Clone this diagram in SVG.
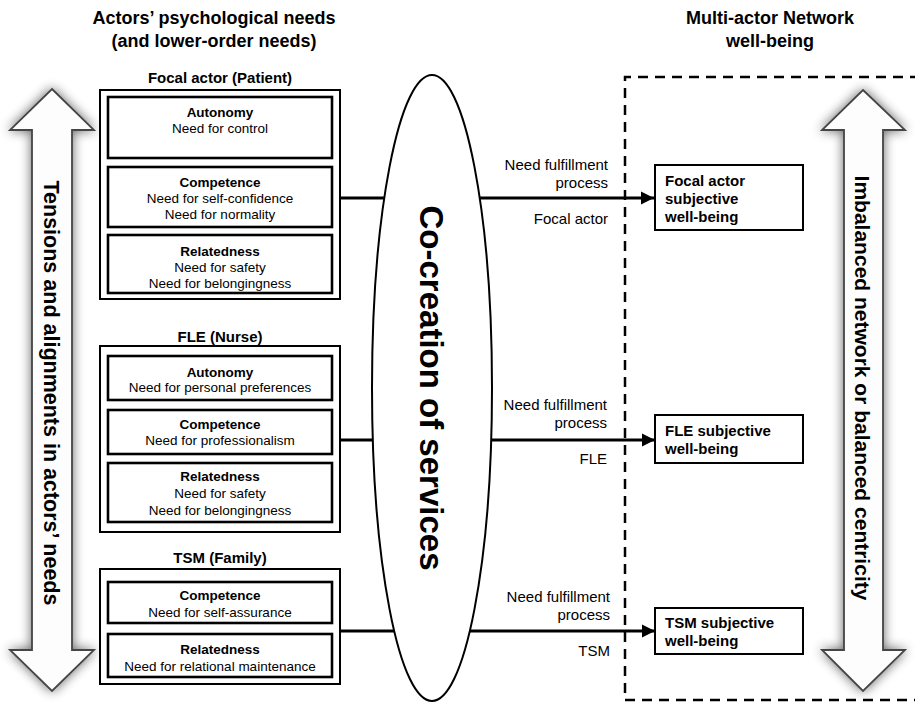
<svg xmlns="http://www.w3.org/2000/svg" width="915" height="707" viewBox="0 0 915 707">
<defs>
<style>
text{font-family:"Liberation Sans",Arial,sans-serif;fill:#000}
.h{font-size:18px;font-weight:bold;text-anchor:middle}
.g{font-size:15px;font-weight:bold;text-anchor:middle}
.t{font-size:13.5px;font-weight:bold;text-anchor:middle}
.n{font-size:13.5px;text-anchor:middle}
.l{font-size:15px;text-anchor:end}
.w{font-size:15px;font-weight:bold}
.outer{fill:#fff;stroke:#000;stroke-width:2}
.inner{fill:#fff;stroke:#000;stroke-width:2.6}
.big{fill:#fdfdfd;stroke:#444;stroke-width:1.8}
.conn{stroke:#000;stroke-width:3;fill:none}
</style>
<filter id="sh" x="-50%" y="-20%" width="200%" height="140%">
<feGaussianBlur in="SourceAlpha" stdDeviation="6"/>
<feComponentTransfer><feFuncA type="linear" slope="0.6"/></feComponentTransfer>
<feMerge><feMergeNode/><feMergeNode in="SourceGraphic"/></feMerge>
</filter>
<marker id="ah" viewBox="0 0 10 10" refX="10" refY="5" markerWidth="4.5" markerHeight="4.5" orient="auto" markerUnits="strokeWidth">
<path d="M0,0 L10,5 L0,10 z" fill="#000"/>
</marker>
</defs>
<rect width="915" height="707" fill="#fff"/>

<g id="headers">
<text class="h" x="214" y="24">Actors’ psychological needs</text>
<text class="h" x="214" y="47">(and lower-order needs)</text>
<text class="h" x="770" y="24">Multi-actor Network</text>
<text class="h" x="770" y="47">well-being</text>
</g>

<g id="left-arrow">
<polygon class="big" filter="url(#sh)" points="52,89 94,130 72,130 72,650 94,650 52,691 10,650 32,650 32,130 10,130"/>
<text transform="translate(44,393) rotate(90)" style="font-size:21.5px;font-weight:bold;text-anchor:middle">Tensions and alignments in actors’ needs</text>
</g>

<g id="right-arrow">
<polygon class="big" filter="url(#sh)" points="863,90 905,130 883,130 883,650 905,650 863,691 822,650 844,650 844,130 822,130"/>
<text transform="translate(855,388) rotate(90)" style="font-size:21px;font-weight:bold;text-anchor:middle">Imbalanced network or balanced centricity</text>
</g>

<g id="network-boundary">
<path d="M920,77 H625 V700 H920" fill="none" stroke="#000" stroke-width="2.5" stroke-dasharray="10,7"/>
</g>

<g id="connectors">
<line class="conn" x1="340" y1="198" x2="388" y2="198"/>
<line class="conn" x1="340" y1="440" x2="373" y2="440"/>
<line class="conn" x1="340" y1="631" x2="394" y2="631"/>
<line class="conn" x1="476" y1="198" x2="654" y2="198" marker-end="url(#ah)"/>
<line class="conn" x1="490" y1="440" x2="655" y2="440" marker-end="url(#ah)"/>
<line class="conn" x1="470" y1="631" x2="655" y2="631" marker-end="url(#ah)"/>
<text class="l" x="608" y="170">Need fulfillment</text>
<text class="l" x="608" y="188">process</text>
<text class="l" x="608" y="224">Focal actor</text>
<text class="l" x="607" y="410">Need fulfillment</text>
<text class="l" x="607" y="428">process</text>
<text class="l" x="607" y="464">FLE</text>
<text class="l" x="610" y="602">Need fulfillment</text>
<text class="l" x="610" y="620">process</text>
<text class="l" x="610" y="656">TSM</text>
</g>

<g id="co-creation">
<ellipse cx="432" cy="388" rx="60" ry="313" fill="#fff" stroke="#000" stroke-width="2"/>
<text transform="translate(420,388) rotate(90)" style="font-size:33px;font-weight:bold;text-anchor:middle">Co-creation of services</text>
</g>

<g id="focal-actor">
<text class="g" x="220" y="83">Focal actor (Patient)</text>
<rect class="outer" x="100" y="90" width="240" height="209"/>
<rect class="inner" x="108" y="97" width="224" height="61"/>
<text class="t" x="220" y="117">Autonomy</text>
<text class="n" x="220" y="133">Need for control</text>
<rect class="inner" x="108" y="167" width="224" height="60"/>
<text class="t" x="220" y="187">Competence</text>
<text class="n" x="220" y="203">Need for self-confidence</text>
<text class="n" x="220" y="219">Need for normality</text>
<rect class="inner" x="108" y="235" width="224" height="58"/>
<text class="t" x="220" y="256">Relatedness</text>
<text class="n" x="220" y="272">Need for safety</text>
<text class="n" x="220" y="288">Need for belongingness</text>
</g>

<g id="fle">
<text class="g" x="220" y="342">FLE (Nurse)</text>
<rect class="outer" x="100" y="346" width="240" height="186"/>
<rect class="inner" x="108" y="356" width="224" height="44"/>
<text class="t" x="220" y="377">Autonomy</text>
<text class="n" x="220" y="392">Need for personal preferences</text>
<rect class="inner" x="108" y="410" width="224" height="44"/>
<text class="t" x="220" y="429">Competence</text>
<text class="n" x="220" y="445">Need for professionalism</text>
<rect class="inner" x="108" y="463" width="224" height="59"/>
<text class="t" x="220" y="481">Relatedness</text>
<text class="n" x="220" y="498">Need for safety</text>
<text class="n" x="220" y="515">Need for belongingness</text>
</g>

<g id="tsm">
<text class="g" x="220" y="563">TSM (Family)</text>
<rect class="outer" x="100" y="569" width="240" height="115"/>
<rect class="inner" x="108" y="582" width="224" height="41"/>
<text class="t" x="220" y="600">Competence</text>
<text class="n" x="220" y="617">Need for self-assurance</text>
<rect class="inner" x="108" y="634" width="224" height="43"/>
<text class="t" x="220" y="654">Relatedness</text>
<text class="n" x="220" y="671">Need for relational maintenance</text>
</g>

<g id="focal-wellbeing">
<rect class="outer" x="655" y="165" width="148" height="65"/>
<text class="w" x="665" y="186">Focal actor</text>
<text class="w" x="665" y="204">subjective</text>
<text class="w" x="665" y="222">well-being</text>
</g>

<g id="fle-wellbeing">
<rect class="outer" x="655" y="415" width="148" height="48"/>
<text class="w" x="665" y="436">FLE subjective</text>
<text class="w" x="665" y="454">well-being</text>
</g>

<g id="tsm-wellbeing">
<rect class="outer" x="655" y="608" width="148" height="46"/>
<text class="w" x="665" y="628">TSM subjective</text>
<text class="w" x="665" y="646">well-being</text>
</g>
</svg>
